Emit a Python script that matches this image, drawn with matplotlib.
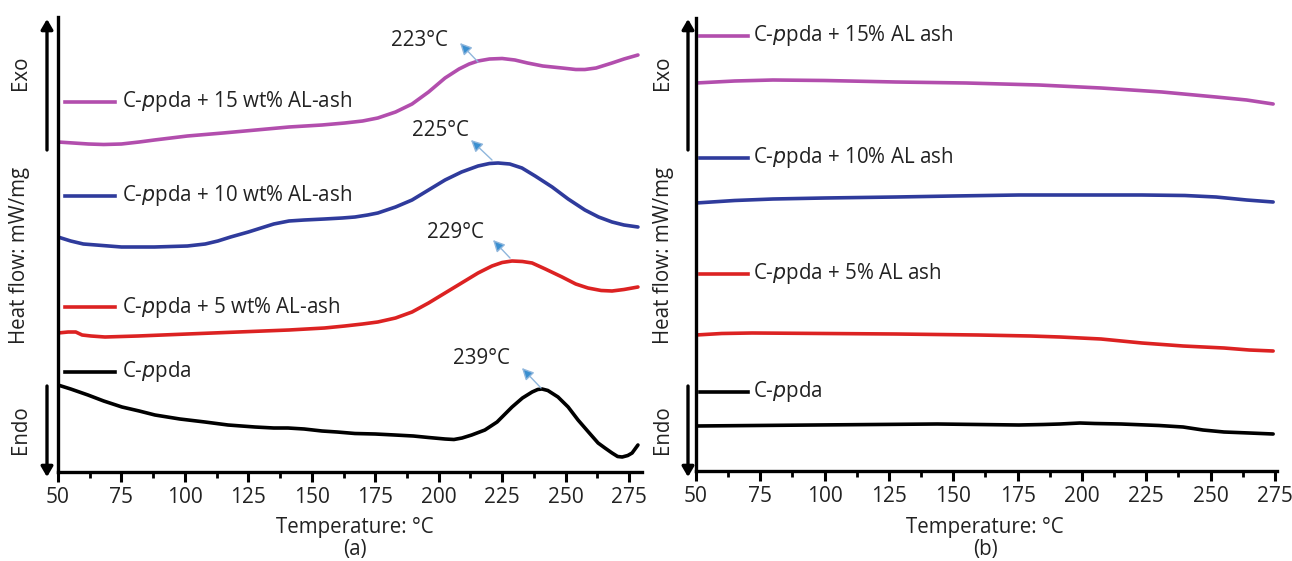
import matplotlib
matplotlib.use("Agg")
import matplotlib.pyplot as plt
from matplotlib.ticker import MultipleLocator

plt.rcParams['font.family'] = ['Open Sans', 'DejaVu Sans']

W, H = 1292, 561

# ---------------- data: panel (a) ----------------
a_black_T = [50, 55, 61.8, 68, 75.2, 82, 88.2, 98, 107.9, 117, 127.6, 135, 140.6, 147, 154, 160,
             167, 175, 182.7, 190, 196, 202.5, 206, 209.2, 213, 218.2, 223, 228.9, 233, 236.8,
             239, 240.7, 243, 247, 251, 254.9, 259, 262.8, 265.5, 268.3, 270.5, 272.3, 274.5,
             276.2, 278.5]
a_black_v = [87, 83, 77, 71, 65, 61, 57, 53, 50, 47, 45, 44, 44, 43, 41, 40,
             38.5, 38, 37, 36, 34.5, 33, 32.5, 34, 37, 42, 50, 65, 74, 80,
             82.5, 83, 81.5, 75, 65, 52, 40, 29, 24, 19, 15.5, 15, 16.5,
             19, 27]

a_red_T = [50, 54, 57, 59.5, 63, 68.5, 81.5, 101, 121, 141, 155, 163, 170, 176, 183, 189.5,
           196, 202.5, 209, 215.5, 221, 225, 228.9, 233, 236.8, 242, 248.6, 254, 258.8, 264,
           268.3, 273, 278.5]
a_red_v = [139, 140, 140, 137, 136, 135, 136, 138, 140, 142, 144, 146, 148, 150, 154, 160,
           169, 179, 189, 199, 206, 209.5, 211, 210.5, 209, 203, 195, 188, 184, 181.5,
           181, 182.5, 185]

a_blue_T = [50, 55, 60, 65, 75, 88, 101, 108, 113, 118, 125, 130, 135, 141, 147, 155, 162,
            167, 172, 176, 183, 189.5, 196, 202.5, 209, 215.5, 220, 223.4, 228, 232.8, 238,
            244.7, 251, 257.6, 263, 268.3, 273, 278.5]
a_blue_v = [235, 231, 228, 227, 225, 225, 226, 228, 231, 235, 240, 244, 248, 251, 252, 253, 254,
            255, 257, 259, 265, 272, 282, 292, 300, 306, 308.5, 309, 308, 304, 296,
            285, 273, 262, 255, 250, 247, 245]

a_mag_T = [50, 56, 62, 68, 75, 82, 88, 101, 115, 128, 141, 154, 163, 170, 176, 183, 189.5,
           196, 202.5, 208, 212, 215.5, 220, 225, 230, 235, 241, 248.6, 254, 257.6, 262,
           268.3, 273, 278.5]
a_mag_v = [330, 329, 328, 327.5, 328, 330, 332, 336, 339, 342, 345, 347, 349, 351, 354, 360, 368,
           380, 394, 403, 408, 411, 413, 413.5, 412, 409, 406, 404, 402.5, 402.5, 404,
           409, 413, 417]

a_labels = ["C-$\\it{p}$pda + 15 wt% AL-ash", "C-$\\it{p}$pda + 10 wt% AL-ash",
            "C-$\\it{p}$pda + 5 wt% AL-ash", "C-$\\it{p}$pda"]
a_label_v = [370, 276, 165, 100]

a_peaks = ["223°C", "225°C", "229°C", "239°C"]
a_peak_tail = [(215.5, 410), (221, 312), (228.1, 214), (240.3, 84)]
a_peak_head = [(208.4, 429), (212.7, 332), (221.4, 232), (232.8, 104)]
a_peak_text = [(192.6, 432), (200.5, 342), (206.4, 240), (217, 114)]

# ---------------- data: panel (b) ----------------
b_mag_T = [50, 65, 79.9, 100, 127.7, 155, 183.3, 207.4, 231.1, 252.1, 264, 274.3]
b_mag_v = [388, 390, 391, 390.5, 389, 388, 386, 383, 379, 374, 371, 367]

b_blue_T = [50, 65, 79.9, 100, 127.7, 150, 175.5, 200, 223.3, 240, 252.1, 264, 274.3]
b_blue_v = [268, 270.5, 272, 273, 274, 275, 276, 276, 276, 275.5, 274, 271, 269]

b_red_T = [50, 60, 71.8, 100, 127.7, 159.6, 180, 191.5, 207.4, 223.3, 239.3, 255.2, 265, 274.3]
b_red_v = [136, 137.5, 138, 137.5, 137, 136, 135, 134, 132, 128, 125, 123, 121, 120]

b_black_T = [50, 95.9, 143.7, 175.5, 185, 191.5, 199.2, 205, 215.2, 230, 239.3, 247, 255.2,
             265, 274.3]
b_black_v = [45, 46, 47, 46, 46.5, 47, 48, 47.5, 47, 45.5, 44, 41, 39, 38, 37]

b_labels = ["C-$\\it{p}$pda + 15% AL ash", "C-$\\it{p}$pda + 10% AL ash",
            "C-$\\it{p}$pda + 5% AL ash", "C-$\\it{p}$pda"]
b_label_v = [435, 313, 197, 79]

xticks = [50, 75, 100, 125, 150, 175, 200, 225, 250, 275]

colors = ["#b24ead", "#2f3b9c", "#dc2222", "#000000"]

FS = 14.8
TXT = "#222222"

fig = plt.figure(figsize=(W / 100, H / 100), dpi=100)


def fx(px):
    return px / W


def fy(py):
    return 1 - py / H


def make_ax(left_px, right_px, top_px, bot_px, xmax, ymax):
    ax = fig.add_axes([fx(left_px), fy(bot_px), (right_px - left_px) / W, (bot_px - top_px) / H])
    ax.set_xlim(50, xmax)
    ax.set_ylim(0, ymax)
    for s in ["top", "right"]:
        ax.spines[s].set_visible(False)
    for s in ["left", "bottom"]:
        ax.spines[s].set_linewidth(2.4)
        ax.spines[s].set_color("black")
    ax.set_yticks([])
    ax.set_xticks(xticks)
    ax.xaxis.set_minor_locator(MultipleLocator(12.5))
    ax.tick_params(axis="x", which="major", direction="out", length=7, width=2.2,
                   labelsize=15, pad=4, colors="black", labelcolor=TXT)
    ax.tick_params(axis="x", which="minor", direction="out", length=4, width=2.0)
    return ax


axA = make_ax(58, 642, 17, 472, 280.1, 455)
axB = make_ax(696, 1277, 18, 471, 275.8, 453)

lw = 2.6
for T, v, c in zip([a_mag_T, a_blue_T, a_red_T, a_black_T],
                   [a_mag_v, a_blue_v, a_red_v, a_black_v], colors):
    axA.plot(T, v, color=c, lw=lw, solid_capstyle="round", solid_joinstyle="round")
for T, v, c in zip([b_mag_T, b_blue_T, b_red_T, b_black_T],
                   [b_mag_v, b_blue_v, b_red_v, b_black_v], colors):
    axB.plot(T, v, color=c, lw=lw, solid_capstyle="round", solid_joinstyle="round")

# in-plot legends
for lab, v, c in zip(a_labels, a_label_v, colors):
    axA.plot([52.8, 72.5], [v, v], color=c, lw=lw)
    axA.text(75.3, v, lab, fontsize=FS, va="center", ha="left", color=TXT)
for lab, v, c in zip(b_labels, b_label_v, colors):
    axB.plot([51.5, 70.2], [v, v], color=c, lw=lw)
    axB.text(72.0, v, lab, fontsize=FS, va="center", ha="left", color=TXT)

# peak annotations
for txt, tail, head, tpos in zip(a_peaks, a_peak_tail, a_peak_head, a_peak_text):
    axA.annotate("", xy=head, xytext=tail,
                 arrowprops=dict(arrowstyle="-|>,head_length=0.5,head_width=0.25",
                                 color="#8fb6dc", lw=1.0, shrinkA=0, shrinkB=0,
                                 mutation_scale=14, fc="#3a8fd0", ec="#8fb6dc"))
    axA.text(tpos[0], tpos[1], txt, fontsize=FS, ha="center", va="center", color=TXT)

# axis labels and Exo / Endo arrows
for xc, xl_center, sub in [(20, 355, "(a)"), (663, 985, "(b)")]:
    fig.text(fx(xc), fy(255), "Heat flow: mW/mg", rotation=90, ha="center", va="center",
             fontsize=FS, color=TXT)
    fig.text(fx(xc), fy(73), "Exo", rotation=90, ha="center", va="center", fontsize=FS,
             color=TXT)
    fig.text(fx(xc), fy(430), "Endo", rotation=90, ha="center", va="center", fontsize=FS,
             color=TXT)
    fig.text(fx(xl_center), fy(527), "Temperature: °C", ha="center", va="center",
             fontsize=FS, color=TXT)
    fig.text(fx(xl_center), fy(549), sub, ha="center", va="center", fontsize=FS,
             color=TXT)

for ax_x in [47, 688]:
    fig.add_artist(matplotlib.patches.FancyArrowPatch(
        (fx(ax_x), fy(150)), (fx(ax_x), fy(19)), transform=fig.transFigure,
        arrowstyle="-|>,head_length=6,head_width=3.5", lw=2.4, color="black",
        shrinkA=0, shrinkB=0))
    fig.add_artist(matplotlib.patches.FancyArrowPatch(
        (fx(ax_x), fy(386)), (fx(ax_x), fy(477)), transform=fig.transFigure,
        arrowstyle="-|>,head_length=6,head_width=3.5", lw=2.4, color="black",
        shrinkA=0, shrinkB=0))

fig.savefig("out.png", dpi=100, facecolor="white")
